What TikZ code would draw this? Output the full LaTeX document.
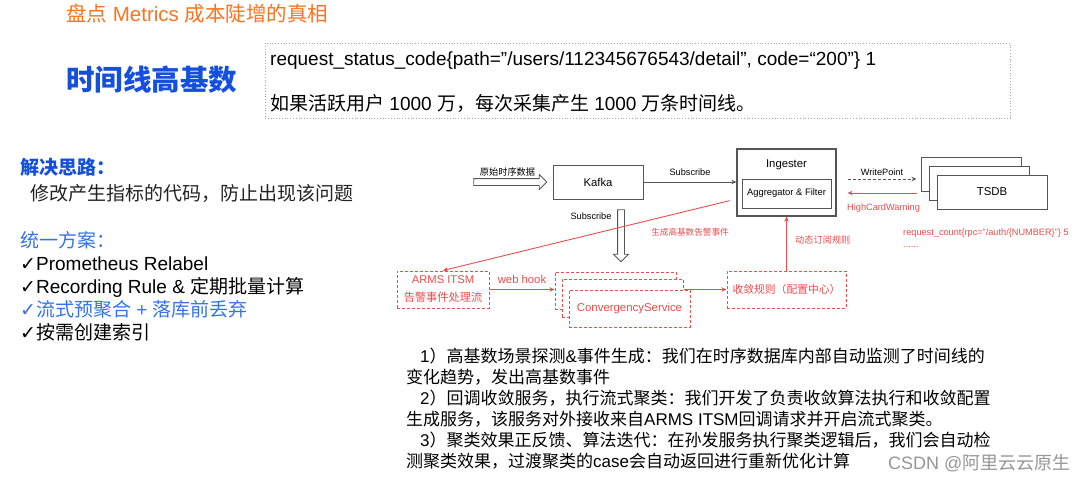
\documentclass[tikz,border=0pt]{standalone}
\usepackage{fontspec}
\setmainfont{Liberation Sans}
\newfontfamily\cjk{Noto Sans CJK SC}
\newfontfamily\sym{DejaVu Sans}
\usetikzlibrary{shapes.arrows, arrows.meta, positioning}
% switch to the CJK face between Latin and Chinese characters
\XeTeXinterchartokenstate=1
\newXeTeXintercharclass\cjkclass
\newcount\cjkcnt
\cjkcnt="4E00 \loop\XeTeXcharclass\cjkcnt=\cjkclass\advance\cjkcnt by 1 \ifnum\cjkcnt<"A000 \repeat
\cjkcnt="3000 \loop\XeTeXcharclass\cjkcnt=\cjkclass\advance\cjkcnt by 1 \ifnum\cjkcnt<"3040 \repeat
\cjkcnt="FF00 \loop\XeTeXcharclass\cjkcnt=\cjkclass\advance\cjkcnt by 1 \ifnum\cjkcnt<"FFF0 \repeat
\XeTeXinterchartoks 0 \cjkclass = {\cjk}
\XeTeXinterchartoks 4095 \cjkclass = {\cjk}
\XeTeXinterchartoks \cjkclass 0 = {\rmfamily}
\XeTeXinterchartoks \cjkclass 4095 = {\rmfamily}
\definecolor{titleorange}{RGB}{250,115,30}
\definecolor{headblue}{RGB}{20,80,220}
\definecolor{planblue}{RGB}{50,115,235}
\definecolor{alertred}{RGB}{236,76,76}
\definecolor{boxgray}{RGB}{85,85,85}
\definecolor{inkgray}{RGB}{35,35,35}
\definecolor{markgray}{RGB}{150,150,150}
\newcommand\fsz[1]{\fontsize{#1}{#1}\selectfont}
\newcommand\tick{{\sym ✓}}
\tikzset{
  txt/.style={inner sep=0pt, anchor=base west, text=inkgray},
  sysbox/.style={draw=boxgray, line width=1pt, fill=white, inner sep=0pt},
  alertbox/.style={draw=alertred, dash pattern=on 3pt off 2pt, line width=1pt, fill=white, inner sep=0pt, text=alertred},
  flow/.style={-{Stealth[length=5pt,width=4.5pt]}, boxgray, line width=0.8pt},
  alertflow/.style={-{Stealth[length=5pt,width=4.5pt]}, alertred, line width=0.9pt},
  hollow/.style={single arrow, draw=boxgray, line width=0.8pt, fill=white, inner sep=3pt, single arrow head extend=4pt, single arrow tip angle=90},
  lbl/.style={inner sep=0pt, font=\fsz{9.2}}
}

\begin{document}
\begin{tikzpicture}[x=1pt, y=-1pt]
\path[fill=white] (0,0) rectangle (1080,482);
\useasboundingbox (0,0) rectangle (1080,482);

% headings and the example series
\node[txt, text=titleorange, font=\fsz{20.5}] (title) at (66,21.5) {盘点 Metrics 成本陡增的真相};
\node[txt, text=headblue, font=\bfseries\fsz{28.5}] (topic) at (66,90.5) {时间线高基数};
\node[draw=gray!70, dotted, line width=0.8pt, minimum width=745pt, minimum height=75pt, inner sep=0pt] (codebox) at (637.5,80.5) {};
\node[txt, text=black, font=\fsz{19}] (series) at (270,65) {request\_status\_code\{path=”/users/112345676543/detail”, code=“200”\} 1};
\node[txt, text=black, font=\fsz{19}] (scale) at (270,110) {如果活跃用户 1000 万，每次采集产生 1000 万条时间线。};

% left column
\node[txt, text=headblue, font=\bfseries\fsz{19}] (idea) at (20,174) {解决思路：};
\node[txt, font=\fsz{19}] (ideatext) at (30,200) {修改产生指标的代码，防止出现该问题};
\node[txt, text=planblue, font=\fsz{19}] (plan) at (20,247) {统一方案：};
\node[txt, text=black, font=\fsz{19}] (relabel) at (20,270) {\tick Prometheus Relabel};
\node[txt, text=black, font=\fsz{19}] (recording) at (20,293) {\tick Recording Rule \& 定期批量计算};
\node[txt, text=planblue, font=\fsz{19}] (streamagg) at (20,316) {\tick 流式预聚合 + 落库前丢弃};
\node[txt, text=black, font=\fsz{19}] (index) at (20,339) {\tick 按需创建索引};

% pipeline
\node[hollow, minimum height=73pt] (rawarrow) at (508.5,182) {};
\node[lbl] (rawlbl) at (507.5,172) {原始时序数据};
\node[sysbox, minimum width=90pt, minimum height=34pt, font=\fsz{11.3}] (kafka) at (598,182) {Kafka};
\node[sysbox, line width=1.2pt, minimum width=99pt, minimum height=67pt] (ing) at (786.5,182.5) {};
\node[inner sep=0pt, font=\fsz{11.3}] (ingtitle) at (786.5,165) {Ingester};
\node[sysbox, minimum width=89pt, minimum height=29pt, font=\fsz{9.4}] (agg) at (786.5,193.5) {Aggregator \& Filter};
\node[sysbox, minimum width=100pt, minimum height=34pt] (tsback) at (971,174) {};
\node[sysbox, minimum width=100pt, minimum height=34pt] (tsmid) at (979,183) {};
\node[sysbox, minimum width=110pt, minimum height=34pt, font=\fsz{11.4}] (tsdb) at (992,192) {TSDB};

\draw[flow] (kafka.east) -- (kafka.east -| ing.west);
\node[lbl] (sublbl) at (690,172) {Subscribe};
\draw[flow, dash pattern=on 3pt off 2pt, shorten <=11pt, shorten >=4pt] ([yshift=3.5pt]ing.east) -- ([yshift=3.5pt]ing.east -| tsback.west);
\node[lbl] (writelbl) at (882,172) {WritePoint};
\draw[alertflow, shorten <=12pt, shorten >=11pt] ([yshift=-10.5pt]ing.east -| tsmid.west) -- ([yshift=-10.5pt]ing.east);
\node[lbl, text=alertred, anchor=west] (warnlbl) at (847,208) {HighCardWarning};
\node[lbl, text=alertred, anchor=west] (sample) at (903,233) {request\_count\{rpc="/auth/\{NUMBER\}"\} 5};
\node[lbl, text=alertred, anchor=west] (more) at (903,247) {......};

\node[hollow, shape border rotate=270, minimum height=52pt] (subarrow) at (621,234) {};
\node[lbl] (sublbl2) at (591,216) {Subscribe};

% alert handling
\node[alertbox, minimum width=92pt, minimum height=37pt, align=center, font=\fontsize{11.2}{18}\selectfont] (arms) at (443,289.5) {ARMS ITSM\\告警事件处理流};
\node[alertbox, minimum width=121pt, minimum height=37pt] (convback) at (615.5,290.5) {};
\node[alertbox, minimum width=121pt, minimum height=38pt] (convmid) at (622.5,298) {};
\node[alertbox, minimum width=121pt, minimum height=37pt, font=\fsz{11.4}] (conv) at (629.5,308.5) {ConvergencyService};
\node[alertbox, minimum width=119pt, minimum height=37pt, font=\fsz{10.8}] (rule) at (786.5,289.5) {收敛规则（配置中心）};

\draw[alertflow, shorten <=7pt] ([yshift=-16.5pt]ing.west) -- (arms.north);
\node[lbl, text=alertred, font=\fsz{8.6}] (eventlbl) at (690,232) {生成高基数告警事件};
\draw[alertflow] (arms.east) -- (arms.east -| convback.west);
\node[lbl, text=alertred, font=\fsz{11.3}] (hooklbl) at (522,279) {web hook};
\draw[alertflow] (convmid.east |- rule.west) -- (rule.west);
\draw[alertflow] (rule.north) -- (rule.north |- ing.south);
\node[lbl, text=alertred, anchor=west] (subrule) at (795,240) {动态订阅规则};

% notes
\node[inner sep=0pt, anchor=north west, align=left, text=black, font=\fontsize{17}{21}\selectfont] (notes) at (406,348) {\hspace*{14pt}1）高基数场景探测\&事件生成：我们在时序数据库内部自动监测了时间线的\\变化趋势，发出高基数事件\\\hspace*{14pt}2）回调收敛服务，执行流式聚类：我们开发了负责收敛算法执行和收敛配置\\生成服务，该服务对外接收来自ARMS ITSM回调请求并开启流式聚类。\\\hspace*{14pt}3）聚类效果正反馈、算法迭代：在孙发服务执行聚类逻辑后，我们会自动检\\测聚类效果，过渡聚类的case会自动返回进行重新优化计算};
\node[txt, text=markgray, font=\fsz{18}] (mark) at (888,469) {CSDN @阿里云云原生};
\end{tikzpicture}
\end{document}
